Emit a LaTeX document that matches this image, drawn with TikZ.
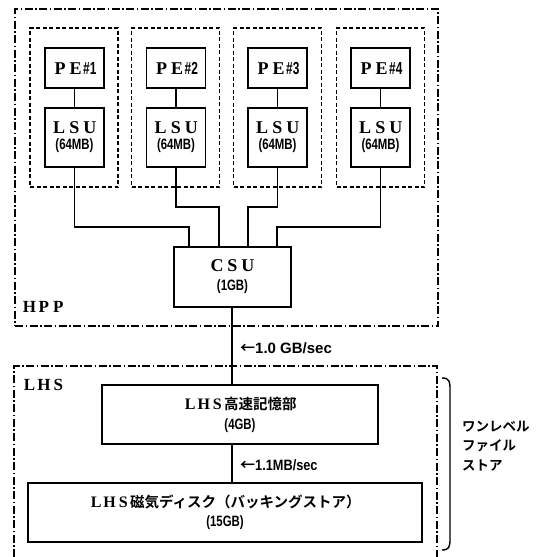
\documentclass[tikz,border=0pt]{standalone}
\usepackage{fontspec}
\usepackage{graphicx}
\setmainfont{Liberation Serif}
\newfontfamily\jp{Noto Sans CJK JP Bold}
\newfontfamily\cnd{Liberation Sans}
\newcommand\fw[1]{\makebox[0.85em]{\bfseries #1}}
\newcommand\hw[1]{{\fontsize{15}{15}\selectfont\scalebox{0.76}[1]{\cnd\bfseries #1}}}
\newcommand\hwbig[1]{{\fontsize{17.5}{17.5}\selectfont\scalebox{0.68}[1]{\cnd\bfseries #1}}}
\tikzset{
  box/.style={draw, line width=1.4pt, inner sep=0pt, align=center},
  dashdot/.style={draw, line width=1.4pt, dash pattern=on 8pt off 2.5pt on 1.5pt off 2.5pt},
  grp/.style={draw, line width=1.2pt, dash pattern=on 4pt off 2.5pt, inner sep=0pt},
  wire/.style={line width=1.4pt},
  lbl/.style={inner sep=0pt, anchor=west},
}
\begin{document}
\begin{tikzpicture}[x=1pt,y=-1pt]
\useasboundingbox[fill=white] (0,0) rectangle (542,557);
% HPP outer
\node[dashdot, minimum width=423, minimum height=317, inner sep=0pt] (hpp) at (226.5,167.5) {};
\node[lbl, font=\fontsize{17}{17}\selectfont] (hpplbl) at (22,307) {\fw{H}\fw{P}\fw{P}};
% groups
\foreach \i/\c in {1/74,2/175.5,3/277.5,4/380.5}{
  \node[grp, minimum width=88, minimum height=159] (g\i) at (\c,107.5) {};
}
\foreach \i/\c in {1/74.5,2/176,3/277.5,4/380.5}{
  \node[box, minimum width=59, minimum height=40, font=\fontsize{18}{18}\selectfont] (p\i) at (\c,68) {\fw{P}\fw{E}\hwbig{\#\i}};
  \node[box, minimum width=59, minimum height=59, font=\fontsize{18}{18}\selectfont] (l\i) at (\c,137.5) {\raisebox{-2pt}{\fw{L}\fw{S}\fw{U}}\\\hw{(64MB)}};
  \draw[wire] (p\i) -- (l\i);
}
% CSU
\node[box, minimum width=117, minimum height=60, font=\fontsize{18}{19}\selectfont] (csu) at (232.5,277) {\fw{C}\fw{S}\fw{U}\\\hw{(1GB)}};
\coordinate (j1) at (189,227);
\coordinate (j2) at (219,207);
\coordinate (j3) at (248,207);
\coordinate (j4) at (277,227);
\draw[wire] (l1.south) |- (j1) -- (j1 |- csu.north);
\draw[wire] (l2.south) |- (j2) -- (j2 |- csu.north);
\draw[wire] (l3.south) |- (j3) -- (j3 |- csu.north);
\draw[wire] (l4.south) |- (j4) -- (j4 |- csu.north);
% LHS outer (open at bottom)
\draw[dashdot] (14,557) -- (14,366) -- (437,366) -- (437,557);
\node[lbl, font=\fontsize{17}{17}\selectfont] (lhslbl) at (22,385) {\fw{L}\fw{H}\fw{S}};
% LHS fast storage
\node[box, minimum width=276, minimum height=59, font=\fontsize{16}{20}\selectfont] (fast) at (240,414.5) {\fw{L}\fw{H}\fw{S}{\fontsize{14.5}{14.5}\selectfont\jp 高速記憶部}\\\hw{(4GB)}};
\node[box, minimum width=394, minimum height=59, font=\fontsize{16}{19}\selectfont] (disk) at (225,512.5) {\fw{L}\fw{H}\fw{S}{\fontsize{14.5}{14.5}\selectfont\jp 磁気ディスク（バッキングストア）}\\\hw{(15GB)}};
\coordinate (c1) at (232,0);
\draw[wire] (c1 |- csu.south) -- (c1 |- fast.north);
\draw[wire] (c1 |- fast.south) -- (c1 |- disk.north);
\node[lbl, font=\fontsize{15}{15}\selectfont] (bw1) at (240,348) {{\jp ←}{\cnd\bfseries 1.0 GB/sec}};
\node[lbl, font=\fontsize{15}{15}\selectfont] (bw2) at (240,465) {{\jp ←}{\cnd\bfseries\scalebox{0.85}[1]{1.1MB/sec}}};
% brace
\draw[line width=1.4pt] (442,378) .. controls (450,378) and (450,382) .. (450,390) -- (450,539) .. controls (450,547) and (449,550) .. (442,550);
\node[lbl, align=left, font=\fontsize{13.5}{19.5}\selectfont\jp] (one) at (462,446) {ワンレベル\\ファイル\\ストア};
\end{tikzpicture}
\end{document}
